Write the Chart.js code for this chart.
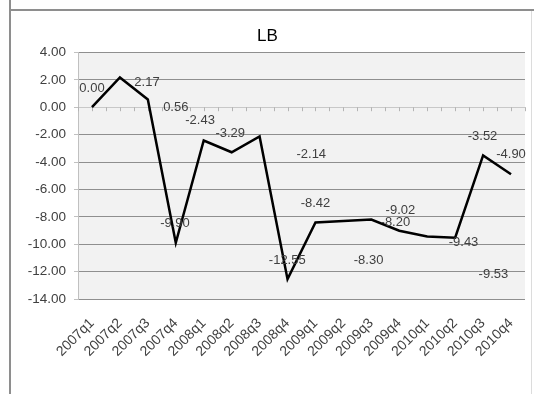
<!DOCTYPE html>
<html>
<head>
<meta charset="utf-8">
<script src="https://cdn.jsdelivr.net/npm/chart.js@4/dist/chart.umd.min.js"></script>
<style>
  html, body { margin: 0; padding: 0; background: #fff; }
  #wrap { position: relative; width: 534px; height: 394px; }
</style>
</head>
<body>
<div id="wrap"><canvas id="lbChart" width="534" height="394"></canvas></div>
<script>
// quarters on the x axis
const quarters = ['2007q1', '2007q2', '2007q3', '2007q4', '2008q1', '2008q2', '2008q3', '2008q4',
    '2009q1', '2009q2', '2009q3', '2009q4', '2010q1', '2010q2', '2010q3', '2010q4'];
// LB series
const lbValues = [0.00, 2.17, 0.56, -9.90, -2.43, -3.29, -2.14, -12.55,
    -8.42, -8.30, -8.20, -9.02, -9.43, -9.53, -3.52, -4.90];
// y axis ticks
const yTicks = [4, 2, 0, -2, -4, -6, -8, -10, -12, -14];

// data labels as the original shows them (Excel put them off their points)
// anchors are given in data space: category index and value
const labelText = ['0.00', '2.17', '0.56', '-2.43', '-3.29', '-2.14', '-3.52', '-4.90',
    '-9.90', '-8.42', '-9.02', '-8.20', '-9.43', '-12.55', '-8.30', '-9.53'];
const labelIdx = [0.0, 1.97, 3.0, 3.87, 4.95, 7.85, 13.98, 15.0,
    2.97, 8.0, 11.04, 10.86, 13.3, 6.99, 9.9, 14.37];
const labelVal = [1.38, 1.82, 0.0, -0.95, -1.9, -3.43, -2.1, -3.43,
    -8.45, -7.0, -7.5, -8.38, -9.84, -11.15, -11.22, -12.17];

const FONT = "'Liberation Sans Narrow', 'Liberation Sans', Arial, sans-serif";
const TEXT = '#404040';

// frame, plot background, zero-axis ticks and the stray labels
const excelLook = {
    id: 'excelLook',
    beforeDraw(chart) {
        const { ctx, chartArea: a } = chart;
        ctx.save();
        ctx.fillStyle = '#ffffff';
        ctx.fillRect(0, 0, chart.width, chart.height);
        ctx.fillStyle = '#f2f2f2';
        ctx.fillRect(a.left, a.top, a.right - a.left, a.bottom - a.top);
        // outer frame
        ctx.strokeStyle = '#8e8e8e';
        ctx.lineWidth = 2;
        ctx.beginPath();
        ctx.moveTo(10, 0); ctx.lineTo(10, chart.height);
        ctx.moveTo(10, 10); ctx.lineTo(chart.width, 10);
        ctx.stroke();
        ctx.strokeStyle = '#dcdcdc';
        ctx.lineWidth = 1;
        ctx.beginPath();
        ctx.moveTo(531.5, 11); ctx.lineTo(531.5, chart.height);
        ctx.stroke();
        ctx.restore();
    },
    beforeDatasetsDraw(chart) {
        const { ctx, scales: { x, y } } = chart;
        const y0 = y.getPixelForValue(0);
        ctx.save();
        ctx.strokeStyle = '#b4b4b4';
        ctx.lineWidth = 1;
        ctx.beginPath();
        for (let i = 0; i <= quarters.length * 2; i++) {
            const px = Math.round(x.getPixelForValue(i / 2 - 0.5)) + 0.5;
            ctx.moveTo(px, y0);
            ctx.lineTo(px, y0 + 4);
        }
        ctx.stroke();
        ctx.restore();
    },
    afterDatasetsDraw(chart) {
        const { ctx, scales: { x, y } } = chart;
        ctx.save();
        ctx.font = '13px ' + FONT;
        ctx.fillStyle = TEXT;
        ctx.textAlign = 'center';
        ctx.textBaseline = 'middle';
        labelText.forEach((t, i) => {
            ctx.fillText(t, x.getPixelForValue(labelIdx[i]), y.getPixelForValue(labelVal[i]));
        });
        ctx.restore();
    }
};

new Chart(document.getElementById('lbChart'), {
    type: 'line',
    data: {
        labels: quarters,
        datasets: [{
            data: lbValues,
            borderColor: '#000000',
            borderWidth: 2.5,
            tension: 0,
            pointRadius: 0,
            fill: false
        }]
    },
    options: {
        responsive: false,
        animation: false,
        devicePixelRatio: 1,
        layout: { padding: { left: 10, right: 9, top: 14, bottom: 8 } },
        plugins: {
            legend: { display: false },
            tooltip: { enabled: false },
            title: {
                display: true,
                text: 'LB',
                color: '#000000',
                font: { family: FONT, size: 17, weight: 'normal' },
                padding: { top: 12, bottom: 6 }
            }
        },
        scales: {
            x: {
                offset: true,
                grid: { display: false },
                border: { display: false },
                ticks: {
                    color: TEXT,
                    font: { family: FONT, size: 14 },
                    minRotation: 45,
                    maxRotation: 45,
                    padding: 8,
                    autoSkip: false
                },
                afterFit(s) { s.height = 87; }
            },
            y: {
                min: -14,
                max: 4,
                afterBuildTicks(s) { s.ticks = yTicks.map(v => ({ value: v })); },
                grid: {
                    color: c => (c.tick && c.tick.value === 0 ? '#c8c8c8' : '#8f8f8f'),
                    tickLength: 4,
                    tickColor: '#c0c0c0'
                },
                border: { display: true, color: '#c0c0c0' },
                ticks: {
                    color: TEXT,
                    font: { family: FONT, size: 13.5 },
                    padding: 8,
                    callback: v => Number(v).toFixed(2)
                },
                afterFit(s) { s.width = 68; }
            }
        }
    },
    plugins: [excelLook]
});
</script>
</body>
</html>
